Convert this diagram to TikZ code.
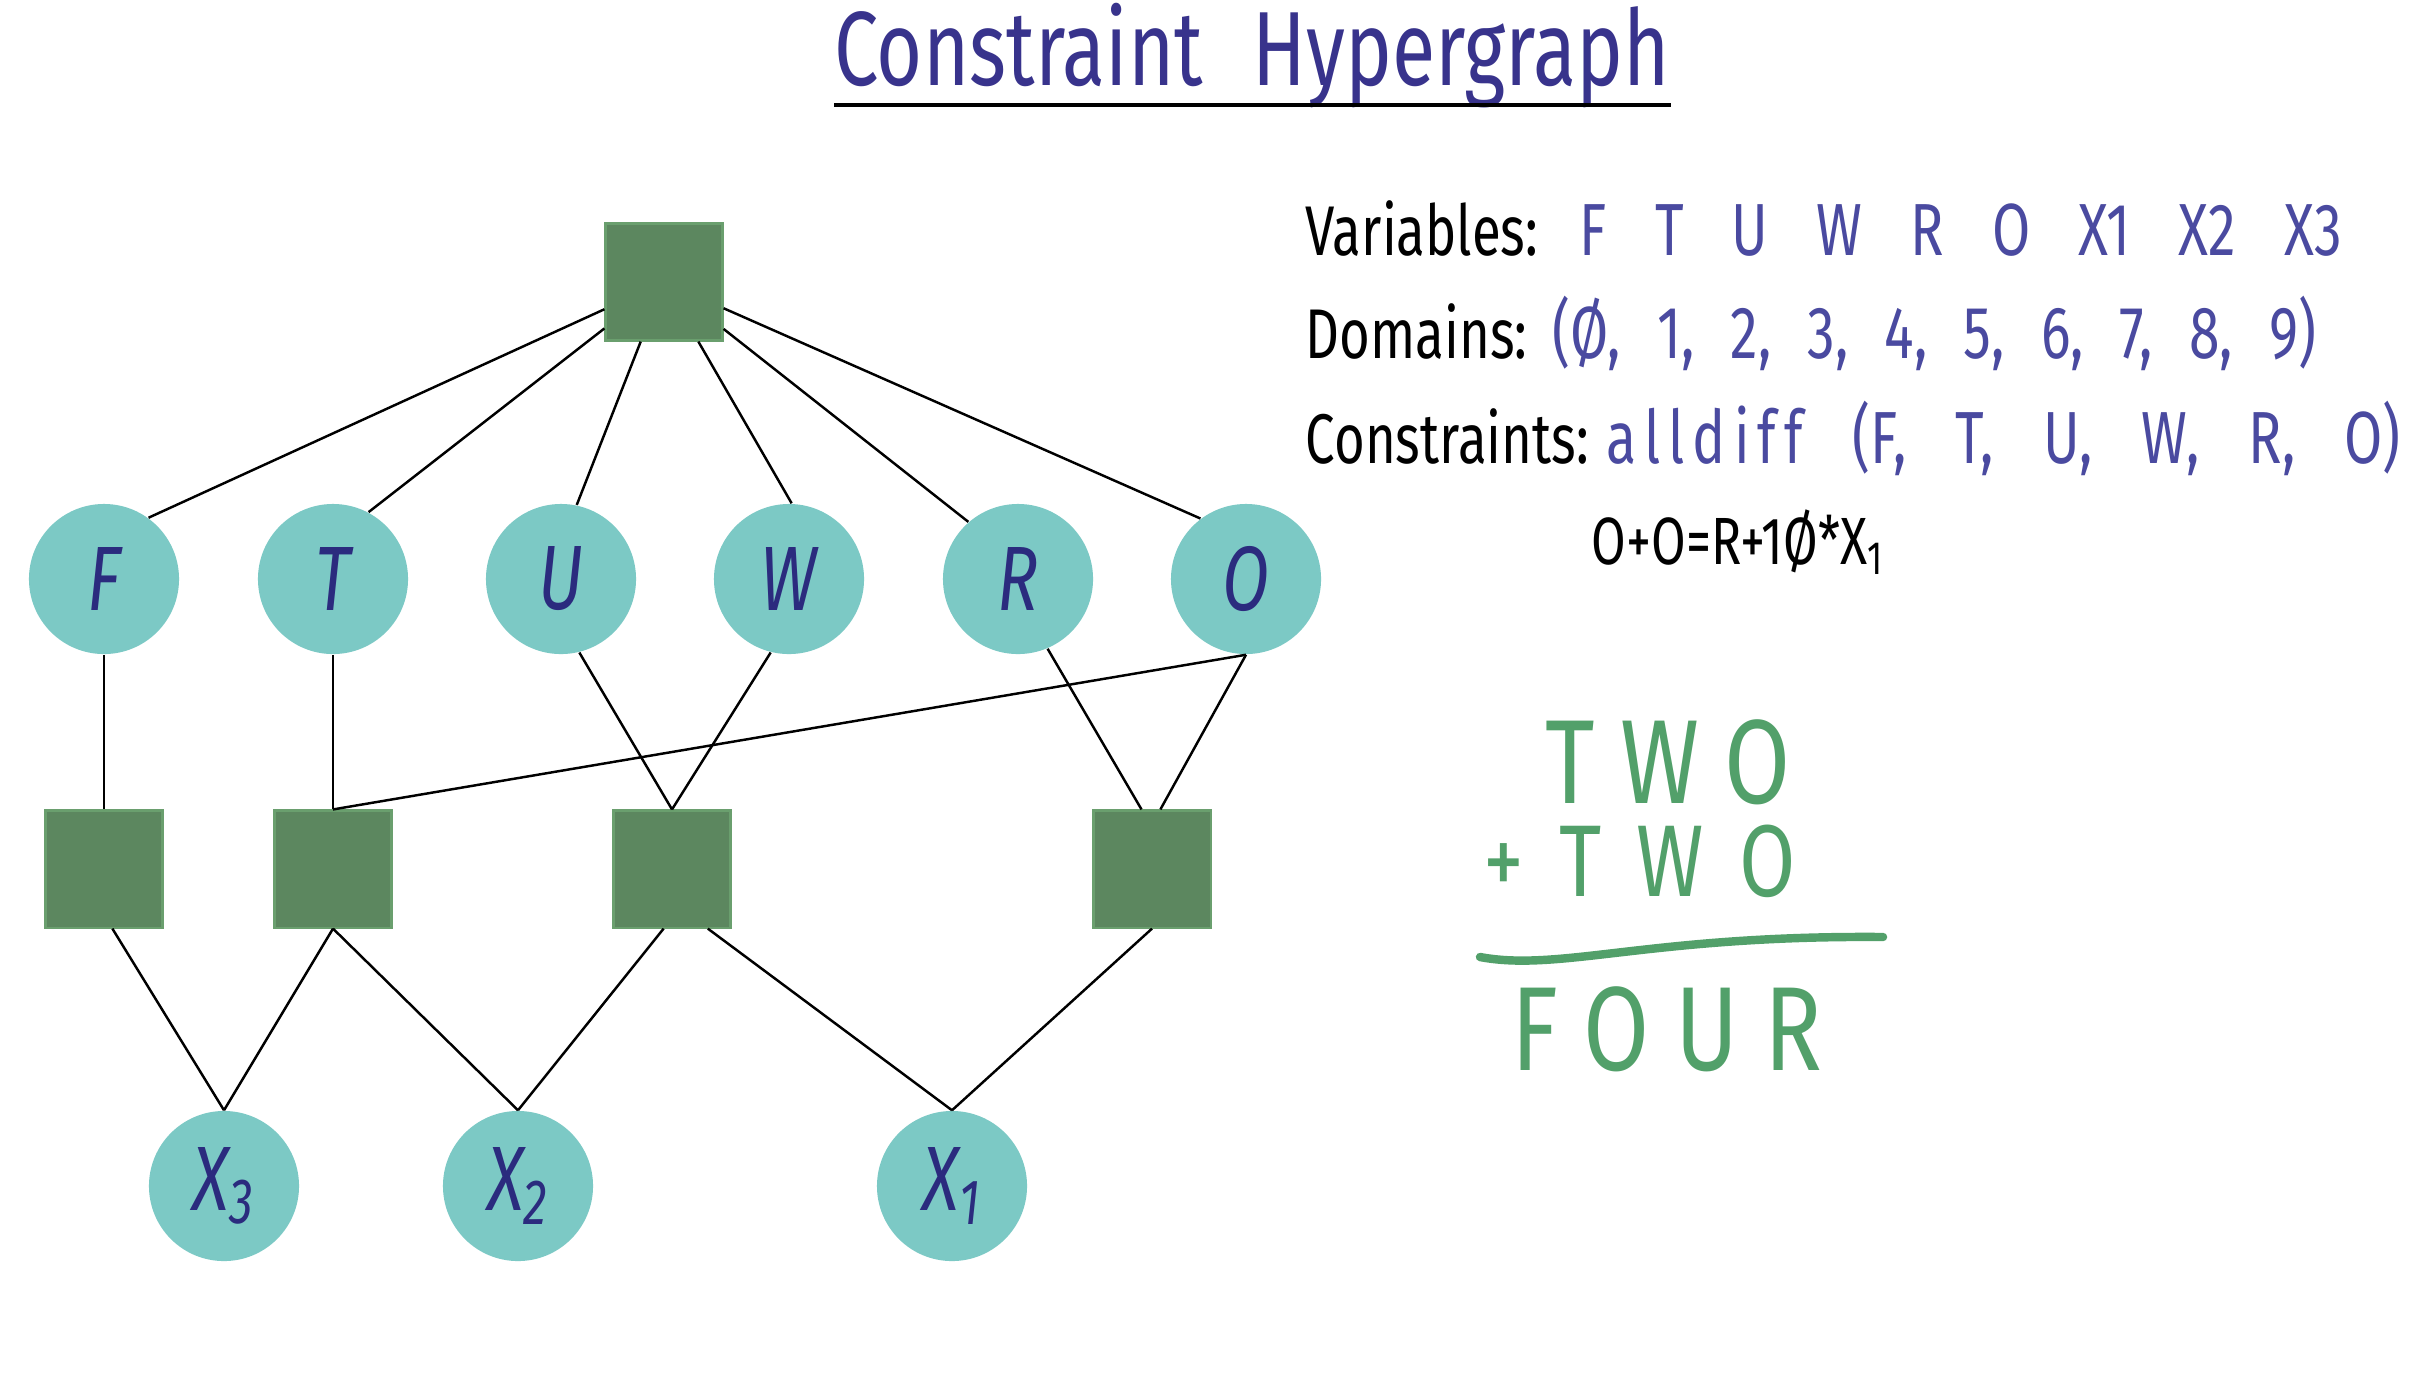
\documentclass[tikz,border=0pt]{standalone}
\usepackage{fontspec}
\setmainfont{Fira Sans}[FakeStretch=0.75]
\newfontfamily\sumfont{Fira Sans}[FakeStretch=0.8]
\definecolor{varfill}{HTML}{7CC9C5}
\definecolor{facfill}{HTML}{5C875F}
\definecolor{facedge}{HTML}{6A9F6E}
\definecolor{inkblue}{HTML}{2B2B7E}
\definecolor{titleblue}{HTML}{38338C}
\definecolor{valblue}{HTML}{4A4AA0}
\definecolor{sumgreen}{HTML}{52A06A}
\newcommand{\gap}[1]{\spaceskip=#1\relax}

\begin{document}
\begin{tikzpicture}[
  x=0.01cm, y=-0.01cm,
  var/.style={circle, fill=varfill, minimum size=1.5cm, inner sep=0pt, text=inkblue, font=\itshape\fontsize{26}{26}\selectfont},
  fac/.style={rectangle, fill=facfill, draw=facedge, line width=0.6pt, minimum size=1.17cm, inner sep=0pt},
  link/.style={line width=0.7pt},
  lbl/.style={anchor=base west, inner sep=0pt, font=\fontsize{20}{20}\selectfont},
  vals/.style={anchor=base west, inner sep=0pt, text=valblue, font=\fontsize{21}{21}\selectfont},
  sum/.style={anchor=base west, inner sep=0pt, text height=24pt, text depth=0pt, text=sumgreen, font=\sumfont\fontsize{34}{34}\selectfont}
]
\fill[white] (0,0) rectangle (2422,1375);
\useasboundingbox (0,0) rectangle (2422,1375);

% title
\node[anchor=base, inner sep=0pt, text=titleblue, font=\fontsize{30}{30}\selectfont] (title) at (1252,85) {Constraint\hspace{14pt}Hypergraph};
\draw[line width=1.4pt] (834,105) -- (1671,105);

% constraint nodes
\node[fac] (top) at (664,282) {};
\node[fac] (s1) at (104,869) {};
\node[fac] (s2) at (333,869) {};
\node[fac] (s3) at (672,869) {};
\node[fac] (s4) at (1152,869) {};

% variables
\node[var] (F) at (104,579) {F};
\node[var] (T) at (333,579) {T};
\node[var] (U) at (561,579) {U};
\node[var] (W) at (789,579) {W};
\node[var] (R) at (1018,579) {R};
\node[var] (O) at (1246,579) {O};
\node[var] (x3) at (224,1186) {X\textsubscript{3}};
\node[var] (x2) at (518,1186) {X\textsubscript{2}};
\node[var] (x1) at (952,1186) {X\textsubscript{1}};

% alldiff
\draw[link] (top) -- (F.54);
\draw[link] (top) -- (T.62);
\draw[link] (top) -- (U.78);
\draw[link] (top) -- (W.88);
\draw[link] (top) -- (R.131);
\draw[link] (top) -- (O.127);

% column constraints
\draw[link] (F) -- (s1);
\draw[link] (T) -- (s2);
\draw[link] (O.south) -- (s2.north);
\draw[link] (U.-76) -- (s3.north);
\draw[link] (W.-104) -- (s3.north);
\draw[link] (R.-67) -- (s4.100);
\draw[link] (O.south) -- (s4.82);

% carries
\draw[link] (s1.-82) -- (x3.north);
\draw[link] (s2.south) -- (x3.north);
\draw[link] (s2.south) -- (x2.north);
\draw[link] (s3.-98) -- (x2.north);
\draw[link] (s3.-59) -- (x1.north);
\draw[link] (s4.south) -- (x1.north);

% problem text
\node[lbl] (varlbl) at (1305,255) {Variables:};
\node[vals] (varvals) at (1579,255) {\gap{13.7pt}F T U W R O X1 X2 X3};
\node[lbl] (domlbl) at (1305,358) {Domains:};
\node[vals] (domvals) at (1552,358) {\gap{10.3pt}(Ø, 1, 2, 3, 4, 5, 6, 7, 8, 9)};
\node[lbl] (conlbl) at (1305,463) {Constraints:};
\node[vals] (convals) at (1606,463) {\gap{14pt}{\addfontfeature{LetterSpace=11}alldiff} (F, T, U, W, R, O)};
\node[lbl, font=\fontsize{19}{19}\selectfont] (sumeq) at (1591,564) {O+O=R+1Ø*X\textsubscript{1}};

% the sum
\node[sum] (row1) at (1545,803) {T W O};
\node[sum, text height=20pt, font=\sumfont\fontsize{29}{29}\selectfont] (row2) at (1483,896) {\gap{10pt}+ T W O};
\node[sum] (row3) at (1511,1070) {F O U R};
\draw[sumgreen, line width=2.4pt, line cap=round] (1480,957) .. controls (1560,972) and (1650,935) .. (1883,937);
\end{tikzpicture}
\end{document}
